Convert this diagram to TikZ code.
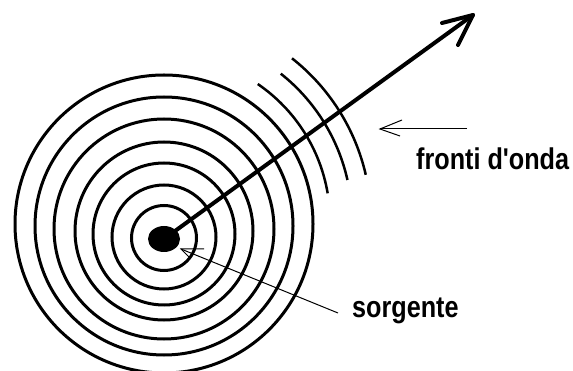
\documentclass[tikz,border=0pt]{standalone}
\usepackage{fontspec}
\setmainfont{Liberation Sans}
\usetikzlibrary{shapes.geometric}
\begin{document}
\begin{tikzpicture}[x=1pt,y=-1pt,
  ring/.style={line width=3pt},
  front/.style={line width=2.5pt},
  ray/.style={line width=4pt, line cap=round, line join=round},
  pointer/.style={line width=1pt},
  lbl/.style={font=\bfseries\fontsize{30}{32}\selectfont, inner sep=0pt, xscale=0.84},
  source/.style={ellipse, fill=black, draw=none, minimum width=32pt, minimum height=26pt, inner sep=0pt}]
\useasboundingbox (0,0) rectangle (573,371);
\clip (0,0) rectangle (573,371);
% concentric wave fronts
\foreach \cy/\r in {238/32.5, 237/52, 234/71, 231/89, 229/110, 226/129, 224/149}
  \draw[ring] (164,\cy) circle[radius=\r];
% partial wave fronts
\coordinate (fc) at (164,221);
\foreach \r/\a/\b in {166/-55.6/-9.6, 188/-51.6/-12.6, 207/-51.8/-12.9}
  \draw[front] ([shift={(\a:\r)}]fc) arc[start angle=\a, end angle=\b, radius=\r];
% source
\node[source] (dot) at (164,239) {};
% ray
\coordinate (tip) at (473,15);
\coordinate (b1) at (442,23);
\coordinate (b2) at (458,45);
\draw[ray] (dot.center) -- (tip);
\draw[ray] (b1) -- (tip) -- (b2);
% labels
\node[lbl, anchor=base west] (fronti) at (416,169.5) {fronti d\textquotesingle onda};
\node[lbl, anchor=base west] (sorg) at (352,318) {sorgente};
% pointer to wave fronts
\coordinate (ftail) at (467,129);
\coordinate (ftip) at (380,129);
\coordinate (fb1) at (402,120);
\coordinate (fb2) at (400,136);
\draw[pointer] (ftail) -- (ftip);
\draw[pointer] (fb1) -- (ftip) -- (fb2);
% pointer to source
\coordinate (stail) at (338,313);
\coordinate (stip) at (181,249);
\coordinate (sb1) at (204,249);
\coordinate (sb2) at (190,258);
\draw[pointer] (stail) -- (stip);
\draw[pointer] (sb1) -- (stip) -- (sb2);
\end{tikzpicture}
\end{document}
